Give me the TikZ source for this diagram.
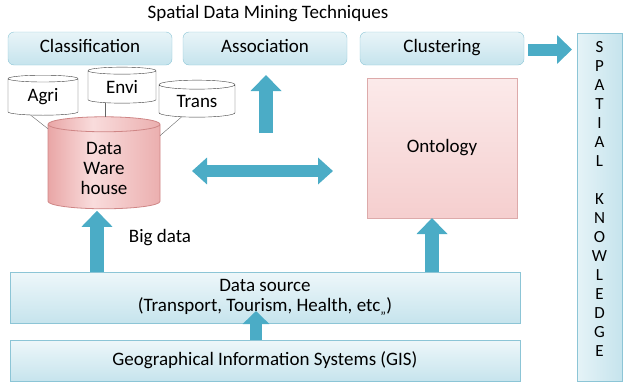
\documentclass[tikz,border=0pt]{standalone}
\usepackage{fontspec}
\setmainfont{Carlito}
\usetikzlibrary{arrows.meta,positioning,shapes.geometric,calc}

\definecolor{boxblue}{HTML}{C6E4ED}
\definecolor{boxedge}{HTML}{8CC5D6}
\definecolor{pinklight}{HTML}{F9DCDC}
\definecolor{pinkdark}{HTML}{E9A6A6}
\definecolor{pinkedge}{HTML}{CF8686}
\definecolor{arrowblue}{HTML}{4BACC6}
\pgfdeclarehorizontalshading{houseshade}{100bp}{color(0bp)=(pinkdark);
  color(25bp)=(pinkdark); color(45bp)=(pinklight); color(75bp)=(pinkdark!90); color(100bp)=(pinkdark)}

\begin{document}
\begin{tikzpicture}[x=1pt, y=-1pt,
    font=\fontsize{19}{20}\selectfont,
    technique/.style={draw=boxedge, rounded corners=6pt, top color=white!60!boxblue,
                      bottom color=boxblue, minimum width=164pt, minimum height=33pt,
                      outer sep=0pt, inner sep=0pt, text height=0.85em, text depth=0pt},
    layer/.style={draw=boxedge, top color=white!70!boxblue, bottom color=boxblue,
                  minimum width=510pt, outer sep=0pt, inner sep=0pt, align=center},
    store/.style={cylinder, shape border rotate=90, aspect=0.22, draw=black!75,
                  fill=white, outer sep=0pt, inner sep=0pt},
    link/.style={draw=black!60, thin},
    fatarrow/.style={draw=arrowblue, line width=14pt,
                     -{Triangle[length=16pt, width=30pt]}},
    biarrow/.style={draw=arrowblue, line width=12pt,
                    {Triangle[length=15pt, width=26pt]}-{Triangle[length=15pt, width=26pt]}},
  ]
    \useasboundingbox (0,0) rectangle (626,386);

    % Title and the three technique boxes
    \node (title) at (268,14) {Spatial Data Mining Techniques};
    \node[technique] (cls) at (90,48.5) {Classification};
    \node[technique, right=11pt of cls] (asc) {Association};
    \node[technique, right=13pt of asc] (clu) {Clustering};

    % Spatial knowledge column
    \node[draw=boxedge, left color=white!55!boxblue, right color=boxblue,
          minimum width=45pt, minimum height=348pt, outer sep=0pt] (kb) at (599.5,207) {};
    \node[align=center, inner sep=0pt, font=\fontsize{17}{19}\selectfont] (kbtext)
      at ([yshift=8pt]kb.center)
      {S\\P\\A\\T\\I\\A\\L\\[19pt]K\\N\\O\\W\\L\\E\\D\\G\\E};

    % Source stores feeding the warehouse
    \node[store, minimum width=70pt, minimum height=40pt] (agri) at (43,97) {Agri};
    \node[store, minimum width=68pt, minimum height=36pt] (envi) at (122,87) {Envi};
    \node[store, minimum width=76pt, minimum height=37pt] (trans) at (197,101) {Trans};
    \node[cylinder, shape border rotate=90, aspect=0.28, draw=pinkedge, thick,
          shading=houseshade, minimum width=112pt, minimum height=92pt,
          align=center, outer sep=0pt]
      (wh) at (104,168) {Data\\Ware\\house};

    \draw[link] (agri.235) -- (wh.145);
    \draw[link] (envi.223) -- (envi.223 |- wh.north);
    \draw[link] (trans.226) -- (wh.30);

    % Ontology
    \node[draw=pinkedge!70, top color=pinklight!60, bottom color=pinklight!75!pinkdark,
          minimum width=150pt, minimum height=140pt, outer sep=0pt] (onto) at (442,148) {Ontology};

    % Data source and GIS layers
    \node[layer, minimum height=51pt] (ds) at (265,297.5)
      {Data source\\(Transport, Tourism, Health, etc\textsubscript{,,})};
    \node[layer, minimum height=41pt] (gis) at (265,360.5)
      {Geographical Information Systems (GIS)};
    \node (bigdata) at (160,238) {Big data};

    % Block arrows
    \draw[fatarrow] ([xshift=-7pt]wh.south |- ds.north) -- ([xshift=-7pt,yshift=-2pt]wh.south);
    \draw[fatarrow] ([xshift=-10pt]onto.south |- ds.north) -- ([xshift=-10pt]onto.south);
    \draw[fatarrow, line width=12pt, -{Triangle[length=13pt, width=26pt]}]
      ([xshift=-9pt]gis.north) -- ([xshift=-9pt,yshift=12pt]gis.north |- ds.south);
    \coordinate (asctail) at ($(asc.south)+(1,68)$);
    \draw[fatarrow, shorten >=10pt] (asctail) -- (asctail |- asc.south);
    \draw[biarrow, shorten <=32pt, shorten >=34pt]
      ([yshift=-3pt]wh.east) -- ([yshift=-3pt]wh.east -| onto.west);
    \draw[fatarrow, line width=12pt, -{Triangle[length=15pt, width=28pt]},
          shorten <=4pt, shorten >=5pt] ([yshift=-1pt]clu.east) -- ([yshift=-1pt]clu.east -| kb.west);
  \end{tikzpicture}
\end{document}
